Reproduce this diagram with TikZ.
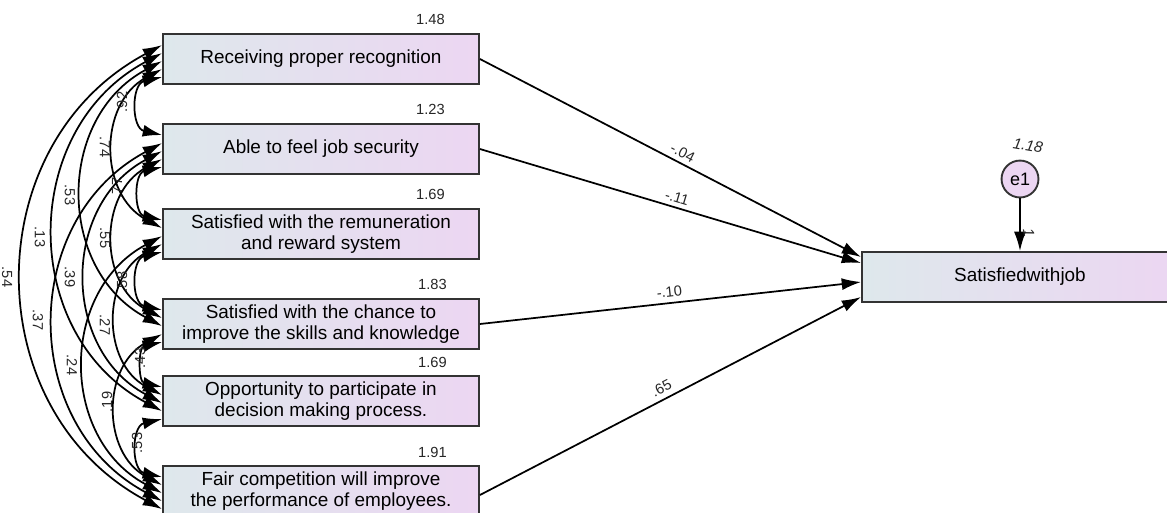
\documentclass[tikz,border=0pt]{standalone}
\usepackage{fontspec}
\setmainfont{Liberation Sans}
\usetikzlibrary{arrows.meta,calc}

\definecolor{boxl}{HTML}{DEE8EC}
\definecolor{boxr}{HTML}{ECD6F2}
\definecolor{frame}{HTML}{333333}
\definecolor{numc}{HTML}{262626}

\begin{document}
\begin{tikzpicture}[x=0.75pt, y=-0.75pt, >={Latex[length=14.5pt,width=9pt]},
      obs/.style={draw=frame, line width=1.4pt, left color=boxl, right color=boxr, align=center,
        inner sep=0pt, minimum width=237pt, minimum height=37.5pt, font=\fontsize{14.2}{15.8}\selectfont},
      err/.style={draw=frame, line width=1.4pt, circle, fill=boxr, inner sep=0pt, minimum size=27.7pt,
        font=\fontsize{13.5}{15}\selectfont},
      num/.style={font=\fontsize{11}{13}\selectfont, text=numc, inner sep=0pt},
      inum/.style={font=\fontsize{11.5}{13}\selectfont\itshape, text=numc, inner sep=0pt},
      reg/.style={->, line width=1.3pt},
      cov/.style={<->, line width=1.3pt}]
    \useasboundingbox (0,0) rectangle (1167,512);
    % observed variables
    \node[obs] (recog) at (321,59) {Receiving proper recognition};
    \node[obs] (secur) at (321,149) {Able to feel job security};
    \node[obs] (remun) at (321,234) {Satisfied with the remuneration\\and reward system};
    \node[obs] (skill) at (321,324) {Satisfied with the chance to\\improve the skills and knowledge};
    \node[obs] (decis) at (321,401) {Opportunity to participate in\\decision making process.};
    \node[obs] (compet) at (321,491) {Fair competition will improve\\the performance of employees.};
    \node[obs] (job) at (1020,277) {Satisfiedwithjob};
    \node[err] (e1) at (1020,179) {e1};
    % variances
    \node[num, anchor=east] (v1) at ($(recog.north east)+(-35,-14)$) {1.48};
    \node[num, anchor=east] (v2) at ($(secur.north east)+(-35,-14)$) {1.23};
    \node[num, anchor=east] (v3) at ($(remun.north east)+(-35,-14)$) {1.69};
    \node[num, anchor=east] (v4) at ($(skill.north east)+(-33,-14)$) {1.83};
    \node[num, anchor=east] (v5) at ($(decis.north east)+(-33,-13)$) {1.69};
    \node[num, anchor=east] (v6) at ($(compet.north east)+(-33,-13)$) {1.91};
    \node[inum, rotate=-10] (ve) at ($(e1.north)+(8,-14)$) {1.18};
    % regressions
    \draw[reg] (recog.east) -- node[num, pos=0.52, sloped, above=3pt] {-.04} ([yshift=15pt]job.west);
    \draw[reg] (secur.east) -- node[num, pos=0.51, sloped, above=3pt] {-.11} ([yshift=10.5pt]job.west);
    \draw[reg] (skill.east) -- node[num, pos=0.5, sloped, above=4pt] {-.10} ([yshift=-3.75pt]job.west);
    \draw[reg] ([yshift=-3pt]compet.east) -- node[num, pos=0.49, sloped, above=4pt] {.65} ([yshift=-15pt]job.west);
    \draw[reg] (e1) -- node[inum, pos=0.55, right=6pt, rotate=-80] {1} (job);
    % covariances
    \draw[cov] ($(recog.north west)+(0,44)$) .. controls +(-30.9,7) and +(-30.9,-7) .. ($(secur.north west)+(0,12)$);
    \draw[cov] ($(recog.north west)+(0,36)$) .. controls +(-63.6,34) and +(-63.6,-34) .. ($(remun.north west)+(0,20)$);
    \draw[cov] ($(recog.north west)+(0,28)$) .. controls +(-106,56.6) and +(-106,-56.6) .. ($(skill.north west)+(0,28)$);
    \draw[cov] ($(recog.north west)+(0,20)$) .. controls +(-143.2,76.5) and +(-143.2,-76.5) .. ($(decis.north west)+(0,36)$);
    \draw[cov] ($(recog.north west)+(0,12)$) .. controls +(-185.6,99.1) and +(-185.6,-99.1) .. ($(compet.north west)+(0,44)$);
    \draw[cov] ($(secur.north west)+(0,44)$) .. controls +(-28.3,6.4) and +(-28.3,-6.4) .. ($(remun.north west)+(0,12)$);
    \draw[cov] ($(secur.north west)+(0,36)$) .. controls +(-63.6,34) and +(-63.6,-34) .. ($(skill.north west)+(0,20)$);
    \draw[cov] ($(secur.north west)+(0,28)$) .. controls +(-100.8,53.8) and +(-100.8,-53.8) .. ($(decis.north west)+(0,28)$);
    \draw[cov] ($(secur.north west)+(0,20)$) .. controls +(-143.2,76.5) and +(-143.2,-76.5) .. ($(compet.north west)+(0,36)$);
    \draw[cov] ($(remun.north west)+(0,44)$) .. controls +(-30.9,7) and +(-30.9,-7) .. ($(skill.north west)+(0,12)$);
    \draw[cov] ($(remun.north west)+(0,36)$) .. controls +(-60.4,32.3) and +(-60.4,-32.3) .. ($(decis.north west)+(0,20)$);
    \draw[cov] ($(remun.north west)+(0,28)$) .. controls +(-102.8,54.9) and +(-102.8,-54.9) .. ($(compet.north west)+(0,28)$);
    \draw[cov] ($(skill.north west)+(0,44)$) .. controls +(-24,5.4) and +(-24,-5.4) .. ($(decis.north west)+(0,12)$);
    \draw[cov] ($(skill.north west)+(0,36)$) .. controls +(-60.4,32.3) and +(-60.4,-32.3) .. ($(compet.north west)+(0,20)$);
    \draw[cov] ($(decis.north west)+(0,44)$) .. controls +(-30.9,7) and +(-30.9,-7) .. ($(compet.north west)+(0,12)$);
    % covariance values
    \node[num, rotate=90] (c12) at (122,102) {.92};
    \node[num, rotate=-90] (c13) at (105,147) {.74};
    \node[num, rotate=-90] (c14) at (70,195) {.53};
    \node[num, rotate=-90] (c15) at (40,237) {.13};
    \node[num, rotate=-90] (c16) at (7,277) {.54};
    \node[num, rotate=90] (c23) at (117,188) {.77};
    \node[num, rotate=-90] (c24) at (105,238) {.55};
    \node[num, rotate=-90] (c25) at (70,277) {.39};
    \node[num, rotate=-90] (c26) at (38,320) {.37};
    \node[num, rotate=90] (c34) at (122,282) {.58};
    \node[num, rotate=-90] (c35) at (105,325) {.27};
    \node[num, rotate=-90] (c36) at (72,365) {.24};
    \node[num, rotate=90] (c45) at (140,358) {.43};
    \node[num, rotate=90] (c46) at (107,402) {.19};
    \node[num, rotate=90] (c56) at (137,443) {.53};
  \end{tikzpicture}
\end{document}
